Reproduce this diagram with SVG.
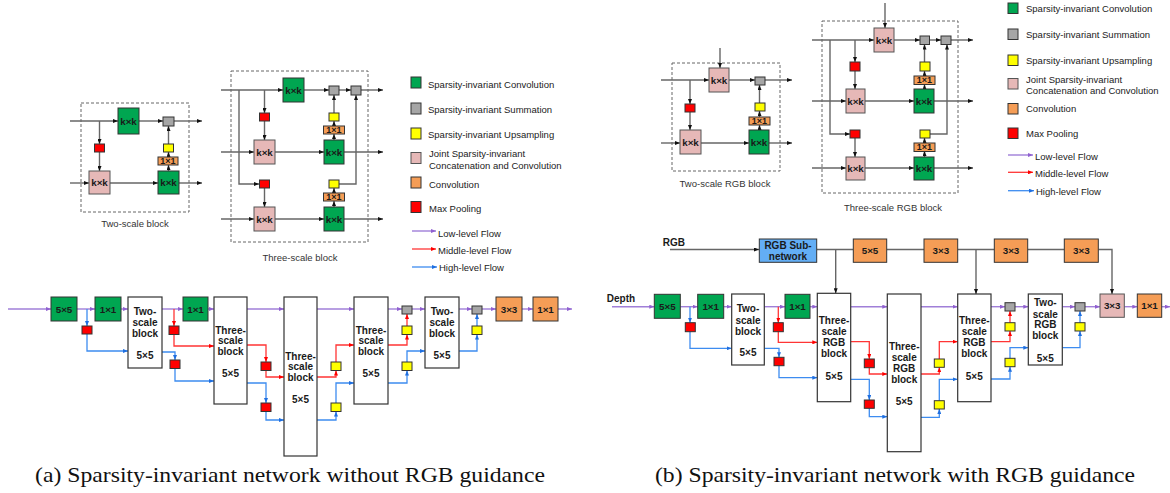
<svg xmlns="http://www.w3.org/2000/svg" width="1170" height="493" viewBox="0 0 1170 493">
<style>
  text { font-family: "Liberation Sans", Arial, sans-serif; fill: #1a1a1a; }
  .b { font-weight: bold; font-size: 10px; text-anchor: middle; dominant-baseline: central; }
  .k { font-weight: bold; font-size: 9.8px; text-anchor: middle; dominant-baseline: central; }
  .s { font-weight: bold; font-size: 9px; text-anchor: middle; dominant-baseline: central; }
  .lg { font-size: 9.5px; dominant-baseline: central; fill: #222; }
  .cap { font-size: 9.5px; text-anchor: middle; dominant-baseline: central; fill: #333; }
  .title { font-family: "Liberation Serif", "Times New Roman", serif; font-size: 21px; fill: #111; }
  .g { fill: #00a651; stroke: #333; stroke-width: 1; }
  .gr { fill: #a6a6a6; stroke: #333; stroke-width: 1; }
  .y { fill: #ffff00; stroke: #333; stroke-width: 1; }
  .p { fill: #e6b8b7; stroke: #555; stroke-width: 1; }
  .o { fill: #f59d56; stroke: #333; stroke-width: 1; }
  .r { fill: #ff0000; stroke: #333; stroke-width: 1; }
  .sub { fill: #63aef5; stroke: #333; stroke-width: 1; }
  .blk { fill: #ffffff; stroke: #333; stroke-width: 1.2; }
  .dash { fill: none; stroke: #666; stroke-width: 1; stroke-dasharray: 3 2; }
  .ln { fill: none; stroke: #666; stroke-width: 1.4; marker-end: url(#ak); }
  .lnp { fill: none; stroke: #666; stroke-width: 1.4; }
  .pu { fill: none; stroke: #a07fd8; stroke-width: 1.4; marker-end: url(#ap); }
  .rd { fill: none; stroke: #ff3535; stroke-width: 1.3; marker-end: url(#ar); }
  .bl { fill: none; stroke: #3d8cf0; stroke-width: 1.3; marker-end: url(#ab); }
</style>
<defs>
  <marker id="ak" markerUnits="userSpaceOnUse" markerWidth="5" markerHeight="4" refX="5" refY="2" orient="auto"><path d="M0,0 L5,2 L0,4 z" fill="#111"/></marker>
  <marker id="ap" markerUnits="userSpaceOnUse" markerWidth="5" markerHeight="4" refX="5" refY="2" orient="auto"><path d="M0,0 L5,2 L0,4 z" fill="#9060d0"/></marker>
  <marker id="ar" markerUnits="userSpaceOnUse" markerWidth="5" markerHeight="4" refX="5" refY="2" orient="auto"><path d="M0,0 L5,2 L0,4 z" fill="#ff0000"/></marker>
  <marker id="ab" markerUnits="userSpaceOnUse" markerWidth="5" markerHeight="4" refX="5" refY="2" orient="auto"><path d="M0,0 L5,2 L0,4 z" fill="#1f6fe0"/></marker>
</defs>

<!-- ===== Two-scale block detail ===== -->
<g id="two-scale-block">
  <rect class="dash" x="81" y="103" width="108" height="109"/>
  <g id="ts-connectors">
    <path class="ln" d="M70,121 H118"/>
    <path class="ln" d="M139,121 H163"/>
    <path class="ln" d="M174,121 H202"/>
    <path class="ln" d="M99.5,121 V144"/>
    <path class="ln" d="M99.5,152 V171"/>
    <path class="ln" d="M70,183 H89"/>
    <path class="ln" d="M110,183 H158"/>
    <path class="ln" d="M179,183 H202"/>
    <path class="ln" d="M168.5,171 V165"/>
    <path class="ln" d="M168.5,157 V152"/>
    <path class="ln" d="M168.5,144 V126"/>
  </g>
  <rect class="g" x="118" y="108" width="21" height="26"/><text class="k" x="128.5" y="121">k×k</text>
  <rect class="gr" x="163" y="117" width="11" height="9"/>
  <rect class="r" x="94.5" y="144" width="10" height="8"/>
  <rect class="p" x="89" y="171" width="21" height="23"/><text class="k" x="99.5" y="182.5">k×k</text>
  <rect class="g" x="158" y="171" width="21" height="23"/><text class="k" x="168.5" y="182.5">k×k</text>
  <rect class="y" x="163.5" y="144" width="10" height="8"/>
  <rect class="o" x="158" y="157" width="20" height="8"/><text class="s" x="168" y="161">1×1</text>
  <text class="cap" x="135" y="223">Two-scale block</text>
</g>

<!-- ===== Three-scale block detail ===== -->
<g id="three-scale-block">
  <rect class="dash" x="231" y="71" width="137" height="171"/>
  <g id="th-connectors">
    <path class="ln" d="M221,90 H283"/>
    <path class="ln" d="M304,90 H329"/>
    <path class="ln" d="M339,90 H351"/>
    <path class="ln" d="M361,90 H383"/>
    <path class="ln" d="M239,90 V184 H259"/>
    <path class="ln" d="M264.5,90 V113"/>
    <path class="ln" d="M264.5,121 V140"/>
    <path class="ln" d="M264.5,188 V207"/>
    <path class="ln" d="M221,152 H254"/>
    <path class="ln" d="M275,152 H324"/>
    <path class="ln" d="M344,152 H383"/>
    <path class="ln" d="M221,219 H254"/>
    <path class="ln" d="M275,219 H324"/>
    <path class="ln" d="M344,219 H383"/>
    <path class="ln" d="M334,140 V134"/>
    <path class="ln" d="M334,126 V121"/>
    <path class="ln" d="M334,113 V95"/>
    <path class="ln" d="M334,207 V201"/>
    <path class="ln" d="M334,193 V188"/>
    <path class="ln" d="M339,184 H356 V95"/>
  </g>
  <rect class="g" x="283" y="78" width="21" height="24"/><text class="k" x="293.5" y="90">k×k</text>
  <rect class="gr" x="329" y="86" width="10" height="9"/>
  <rect class="gr" x="351" y="86" width="10" height="9"/>
  <rect class="r" x="259.5" y="113" width="10" height="8"/>
  <rect class="p" x="254" y="140" width="21" height="24"/><text class="k" x="264.5" y="152">k×k</text>
  <rect class="g" x="324" y="140" width="20" height="24"/><text class="k" x="334" y="152">k×k</text>
  <rect class="y" x="329" y="113" width="10" height="8"/>
  <rect class="o" x="323.5" y="126" width="21" height="8"/><text class="s" x="334" y="130">1×1</text>
  <rect class="r" x="259.5" y="180" width="10" height="8"/>
  <rect class="p" x="254" y="207" width="21" height="24"/><text class="k" x="264.5" y="219">k×k</text>
  <rect class="g" x="324" y="207" width="20" height="24"/><text class="k" x="334" y="219">k×k</text>
  <rect class="y" x="329" y="180" width="10" height="8"/>
  <rect class="o" x="323.5" y="193" width="21" height="8"/><text class="s" x="334" y="197">1×1</text>
  <text class="cap" x="300" y="257">Three-scale block</text>
</g>

<!-- ===== Legend (a) ===== -->
<g id="legend-a">
  <rect class="g" x="411" y="77" width="10" height="11"/><text class="lg" x="428" y="84">Sparsity-invariant Convolution</text>
  <rect class="gr" x="411" y="103" width="10" height="11"/><text class="lg" x="428" y="109">Sparsity-invariant Summation</text>
  <rect class="y" x="411" y="128" width="10" height="11"/><text class="lg" x="428" y="134">Sparsity-invariant Upsampling</text>
  <rect class="p" x="411" y="152.5" width="10" height="11"/><text class="lg" x="429" y="153.5">Joint Sparsity-invariant</text><text class="lg" x="429" y="165">Concatenation and Convolution</text>
  <rect class="o" x="411" y="177" width="10" height="11"/><text class="lg" x="429" y="184">Convolution</text>
  <rect class="r" x="411" y="201.5" width="10" height="11"/><text class="lg" x="429" y="208">Max Pooling</text>
  <path class="pu" d="M412,231 H436"/><text class="lg" x="438" y="233">Low-level Flow</text>
  <path class="rd" d="M412,249 H436"/><text class="lg" x="438" y="250.5">Middle-level Flow</text>
  <path class="bl" d="M412,267 H437"/><text class="lg" x="439" y="267.5">High-level Flow</text>
</g>

<!-- ===== Network (a) connectors ===== -->
<g id="net-a-connectors">
  <path class="pu" d="M8,309 H51"/>
  <path class="pu" d="M77,309 H95"/>
  <path class="pu" d="M121,309 H128"/>
  <path class="pu" d="M162,309 H183"/>
  <path class="pu" d="M208,309 H214"/>
  <path class="pu" d="M247,309 H284"/>
  <path class="pu" d="M317,309 H354"/>
  <path class="pu" d="M388,309 H402"/>
  <path class="pu" d="M412,309 H425"/>
  <path class="pu" d="M459,309 H472"/>
  <path class="pu" d="M482,309 H496"/>
  <path class="pu" d="M522,309 H533"/>
  <path class="pu" d="M558,309 H572"/>
  <path class="bl" d="M87,309 V326"/>
  <path class="bl" d="M87,334 V351 H128"/>
  <path class="rd" d="M174,309 V326"/>
  <path class="rd" d="M174,334 V346 H214"/>
  <path class="bl" d="M162,352 H175 V360"/>
  <path class="bl" d="M175,368 V381 H214"/>
  <path class="rd" d="M247,345 H266 V362"/>
  <path class="rd" d="M266,370.5 V377 H284"/>
  <path class="bl" d="M247,383 H266 V403"/>
  <path class="bl" d="M266,411.5 V420 H284"/>
  <path class="rd" d="M317,377 H336 V370.5"/>
  <path class="rd" d="M336,362 V345 H354"/>
  <path class="bl" d="M317,420 H336 V411.5"/>
  <path class="bl" d="M336,403 V383 H354"/>
  <path class="rd" d="M388,345 H407 V334.5"/>
  <path class="rd" d="M407,326 V314"/>
  <path class="bl" d="M388,383 H407 V370.5"/>
  <path class="bl" d="M407,362 V351 H425"/>
  <path class="bl" d="M459,351 H477 V334.5"/>
  <path class="bl" d="M477,326 V314"/>
</g>

<!-- ===== Network (a) nodes ===== -->
<g id="a-conv5"><rect class="g" x="51" y="297" width="26" height="24"/><text class="k" x="64" y="309">5×5</text></g>
<g id="a-conv1a"><rect class="g" x="95" y="297" width="26" height="24"/><text class="k" x="108" y="309">1×1</text></g>
<g id="a-pool1"><rect class="r" x="82" y="326" width="10" height="8"/></g>
<g id="a-two1"><rect class="blk" x="128" y="297" width="34" height="71"/>
  <text class="b" x="145" y="311">Two-</text><text class="b" x="145" y="322.7">scale</text><text class="b" x="145" y="333.7">block</text><text class="b" x="145" y="355.7">5×5</text></g>
<g id="a-conv1b"><rect class="g" x="183" y="297" width="25" height="24"/><text class="k" x="195.5" y="309">1×1</text></g>
<g id="a-pool2"><rect class="r" x="169" y="326" width="10" height="8.5"/></g>
<g id="a-pool3"><rect class="r" x="170" y="360" width="10" height="8.5"/></g>
<g id="a-three1"><rect class="blk" x="214" y="297" width="33" height="107"/>
  <text class="b" x="230.5" y="330">Three-</text><text class="b" x="230.5" y="340.7">scale</text><text class="b" x="230.5" y="351.7">block</text><text class="b" x="230.5" y="373.3">5×5</text></g>
<g id="a-pool4"><rect class="r" x="261" y="362" width="10" height="8.5"/></g>
<g id="a-pool5"><rect class="r" x="261" y="403" width="10" height="8.5"/></g>
<g id="a-three2"><rect class="blk" x="284" y="297" width="33" height="159"/>
  <text class="b" x="300.5" y="356">Three-</text><text class="b" x="300.5" y="366.7">scale</text><text class="b" x="300.5" y="377.3">block</text><text class="b" x="300.5" y="399.3">5×5</text></g>
<g id="a-up1"><rect class="y" x="331" y="362" width="10" height="8.5"/></g>
<g id="a-up2"><rect class="y" x="331" y="403" width="10" height="8.5"/></g>
<g id="a-three3"><rect class="blk" x="354" y="297" width="34" height="107"/>
  <text class="b" x="371" y="330">Three-</text><text class="b" x="371" y="340.7">scale</text><text class="b" x="371" y="351.7">block</text><text class="b" x="371" y="373.3">5×5</text></g>
<g id="a-sum1"><rect class="gr" x="402" y="306" width="10" height="8"/></g>
<g id="a-up3"><rect class="y" x="402" y="326" width="10" height="8.5"/></g>
<g id="a-up4"><rect class="y" x="402" y="362" width="10" height="8.5"/></g>
<g id="a-two2"><rect class="blk" x="425" y="297" width="34" height="71"/>
  <text class="b" x="442" y="311">Two-</text><text class="b" x="442" y="322.7">scale</text><text class="b" x="442" y="333.7">block</text><text class="b" x="442" y="355.7">5×5</text></g>
<g id="a-sum2"><rect class="gr" x="472" y="306" width="10" height="8"/></g>
<g id="a-up5"><rect class="y" x="472" y="326" width="10" height="8.5"/></g>
<g id="a-conv3"><rect class="o" x="496" y="297" width="26" height="24"/><text class="k" x="509" y="309">3×3</text></g>
<g id="a-conv1c"><rect class="o" x="533" y="297" width="25" height="24"/><text class="k" x="545.5" y="309">1×1</text></g>

<!-- ===== Two-scale RGB block detail ===== -->
<g id="two-scale-rgb-block">
  <rect class="dash" x="672" y="63" width="108" height="108"/>
  <g id="tsr-connectors">
    <path class="ln" d="M720,48 V68"/>
    <path class="ln" d="M661,80 H709"/>
    <path class="ln" d="M729,80 H755"/>
    <path class="ln" d="M765,80 H792"/>
    <path class="ln" d="M690,80 V104"/>
    <path class="ln" d="M690,112 V130"/>
    <path class="ln" d="M661,143 H680"/>
    <path class="ln" d="M701,143 H749"/>
    <path class="ln" d="M769,143 H792"/>
    <path class="ln" d="M759.5,130 V125"/>
    <path class="ln" d="M759.5,117 V111"/>
    <path class="ln" d="M759.5,103 V85"/>
  </g>
  <rect class="p" x="709" y="68" width="20" height="24"/><text class="k" x="719" y="80">k×k</text>
  <rect class="gr" x="755" y="77" width="10" height="8"/>
  <rect class="r" x="685" y="104" width="10" height="8"/>
  <rect class="p" x="680" y="130" width="21" height="24"/><text class="k" x="690.5" y="142.5">k×k</text>
  <rect class="g" x="749" y="130" width="20" height="24"/><text class="k" x="759" y="142.5">k×k</text>
  <rect class="y" x="755" y="103" width="10" height="8"/>
  <rect class="o" x="749" y="117" width="21" height="8"/><text class="s" x="759.5" y="121">1×1</text>
  <text class="cap" x="725" y="183">Two-scale RGB block</text>
</g>

<!-- ===== Three-scale RGB block detail ===== -->
<g id="three-scale-rgb-block">
  <rect class="dash" x="822" y="21" width="136" height="172"/>
  <g id="thr-connectors">
    <path class="ln" d="M885,3 V28"/>
    <path class="ln" d="M812,40 H874"/>
    <path class="ln" d="M894,40 H920"/>
    <path class="ln" d="M929.5,40 H941"/>
    <path class="ln" d="M951,40 H973"/>
    <path class="ln" d="M830,40 V134 H850"/>
    <path class="ln" d="M855,40 V62"/>
    <path class="ln" d="M855,71 V89"/>
    <path class="ln" d="M855,138 V157"/>
    <path class="ln" d="M812,101 H846"/>
    <path class="ln" d="M865,101 H914"/>
    <path class="ln" d="M934,101 H973"/>
    <path class="ln" d="M812,168 H846"/>
    <path class="ln" d="M865,168 H914"/>
    <path class="ln" d="M934,168 H973"/>
    <path class="ln" d="M924.5,89 V84.5"/>
    <path class="ln" d="M924.5,76 V71"/>
    <path class="ln" d="M924.5,62 V44.5"/>
    <path class="ln" d="M924.5,157 V151"/>
    <path class="ln" d="M924.5,143 V138"/>
    <path class="ln" d="M930,134 H947 V44.5"/>
  </g>
  <rect class="p" x="874" y="28" width="20" height="24"/><text class="k" x="884" y="40">k×k</text>
  <rect class="gr" x="920" y="36" width="9.5" height="8.5"/>
  <rect class="gr" x="941" y="36" width="10" height="8.5"/>
  <rect class="r" x="850" y="62" width="10" height="9"/>
  <rect class="p" x="846" y="89" width="19" height="24"/><text class="k" x="855.5" y="101">k×k</text>
  <rect class="g" x="914" y="89" width="20" height="24"/><text class="k" x="924" y="101">k×k</text>
  <rect class="y" x="920" y="62" width="10" height="9"/>
  <rect class="o" x="914" y="76" width="21" height="8.5"/><text class="s" x="924.5" y="80.3">1×1</text>
  <rect class="r" x="850" y="130" width="10" height="8"/>
  <rect class="p" x="846" y="157" width="19" height="23"/><text class="k" x="855.5" y="168.5">k×k</text>
  <rect class="g" x="914" y="157" width="20" height="23"/><text class="k" x="924" y="168.5">k×k</text>
  <rect class="y" x="920" y="130" width="10" height="8"/>
  <rect class="o" x="914" y="143" width="21" height="8.5"/><text class="s" x="924.5" y="147.3">1×1</text>
  <text class="cap" x="893" y="207">Three-scale RGB block</text>
</g>

<!-- ===== Legend (b) ===== -->
<g id="legend-b">
  <rect class="g" x="1008" y="3" width="10" height="10.5"/><text class="lg" x="1026" y="8.5">Sparsity-invariant Convolution</text>
  <rect class="gr" x="1008" y="29" width="10" height="10.5"/><text class="lg" x="1026" y="34.5">Sparsity-invariant Summation</text>
  <rect class="y" x="1008" y="55" width="10" height="10.5"/><text class="lg" x="1026" y="60">Sparsity-invariant Upsampling</text>
  <rect class="p" x="1008" y="78.5" width="10" height="10.5"/><text class="lg" x="1026" y="79.5">Joint Sparsity-invariant</text><text class="lg" x="1026" y="90.5">Concatenation and Convolution</text>
  <rect class="o" x="1008" y="103.5" width="10" height="10.5"/><text class="lg" x="1026" y="108.5">Convolution</text>
  <rect class="r" x="1008" y="128" width="10" height="10.5"/><text class="lg" x="1026" y="133">Max Pooling</text>
  <path class="pu" d="M1008,155 H1033"/><text class="lg" x="1035" y="156">Low-level Flow</text>
  <path class="rd" d="M1008,172.3 H1033"/><text class="lg" x="1035" y="173.5">Middle-level Flow</text>
  <path class="bl" d="M1008,190.7 H1034"/><text class="lg" x="1036" y="191">High-level Flow</text>
</g>

<!-- ===== Network (b) connectors ===== -->
<g id="net-b-connectors">
  <path class="ln" d="M670,249.5 H759"/>
  <path class="lnp" d="M816.7,249.5 H853"/>
  <path class="ln" d="M835.7,249.5 V293.3"/>
  <path class="lnp" d="M886.7,249.5 H924"/>
  <path class="lnp" d="M957.7,249.5 H994.3"/>
  <path class="ln" d="M976,249.5 V294"/>
  <path class="lnp" d="M1027.7,249.5 H1064.3"/>
  <path class="ln" d="M1098.3,249.5 H1112 V294"/>
  <path class="pu" d="M612,306.7 H654.3"/>
  <path class="pu" d="M680.3,306.7 H697.7"/>
  <path class="pu" d="M723.7,306.7 H731.7"/>
  <path class="pu" d="M764.3,306.7 H785"/>
  <path class="pu" d="M810,306.7 H817.3"/>
  <path class="pu" d="M850.7,306.7 H887.3"/>
  <path class="pu" d="M921,306.7 H957.7"/>
  <path class="pu" d="M991,306.7 H1005"/>
  <path class="pu" d="M1015,306.7 H1028.3"/>
  <path class="pu" d="M1062.3,306.7 H1075"/>
  <path class="pu" d="M1085,306.7 H1100"/>
  <path class="pu" d="M1124.3,306.7 H1137.3"/>
  <path class="pu" d="M1161.7,306.7 H1170"/>
  <path class="bl" d="M690,306.7 V322.7"/>
  <path class="bl" d="M690,331.7 V348.3 H731.7"/>
  <path class="rd" d="M778.3,306.7 V322.7"/>
  <path class="rd" d="M778.3,331.7 V342.3 H817.3"/>
  <path class="bl" d="M764.3,348.3 H779 V357.3"/>
  <path class="bl" d="M779,365.7 V377.7 H817.3"/>
  <path class="rd" d="M850.7,341.7 H869.3 V359"/>
  <path class="rd" d="M869.3,367.7 V374 H887.3"/>
  <path class="bl" d="M850.7,379.3 H869.3 V400"/>
  <path class="bl" d="M869.3,408.3 V416.7 H887.3"/>
  <path class="rd" d="M921,374 H939.3 V367.3"/>
  <path class="rd" d="M939.3,359 V341.7 H957.7"/>
  <path class="bl" d="M921,417.3 H939.3 V409"/>
  <path class="bl" d="M939.3,400.7 V379.3 H957.7"/>
  <path class="rd" d="M991,341.7 H1010 V331"/>
  <path class="rd" d="M1010,322.7 V311"/>
  <path class="bl" d="M991,379 H1010 V366.7"/>
  <path class="bl" d="M1010,358.3 V347.7 H1028.3"/>
  <path class="bl" d="M1062.3,347.7 H1080 V331"/>
  <path class="bl" d="M1080,322.7 V311"/>
</g>

<!-- ===== Network (b) nodes ===== -->
<g id="b-rgb-label"><text class="b" x="673.8" y="242.3">RGB</text></g>
<g id="b-depth-label"><text class="b" x="621" y="298.3">Depth</text></g>
<g id="b-rgb-sub"><rect class="sub" x="759.3" y="239" width="57.4" height="23.3"/>
  <text class="b" x="788" y="245.7">RGB Sub-</text><text class="b" x="788" y="256.7">network</text></g>
<g id="b-rgb-conv5"><rect class="o" x="853.3" y="239" width="33.4" height="23.3"/><text class="k" x="870" y="250.7">5×5</text></g>
<g id="b-rgb-conv3a"><rect class="o" x="924" y="239" width="33.7" height="23.3"/><text class="k" x="940.8" y="250.7">3×3</text></g>
<g id="b-rgb-conv3b"><rect class="o" x="994.3" y="239" width="33.4" height="23.3"/><text class="k" x="1011" y="250.7">3×3</text></g>
<g id="b-rgb-conv3c"><rect class="o" x="1064.3" y="239" width="34" height="23.3"/><text class="k" x="1081.3" y="250.7">3×3</text></g>
<g id="b-conv5"><rect class="g" x="654.3" y="294.3" width="26" height="24"/><text class="k" x="667.3" y="306.3">5×5</text></g>
<g id="b-conv1a"><rect class="g" x="697.7" y="294.3" width="26" height="24"/><text class="k" x="710.7" y="306.3">1×1</text></g>
<g id="b-pool1"><rect class="r" x="685.3" y="322.7" width="10" height="9"/></g>
<g id="b-two1"><rect class="blk" x="731.7" y="294" width="32.6" height="71"/>
  <text class="b" x="748" y="308.3">Two-</text><text class="b" x="748" y="320">scale</text><text class="b" x="748" y="331">block</text><text class="b" x="748" y="352.7">5×5</text></g>
<g id="b-conv1b"><rect class="g" x="785" y="294.3" width="25" height="24"/><text class="k" x="797.5" y="306.3">1×1</text></g>
<g id="b-pool2"><rect class="r" x="773.3" y="322.7" width="10" height="9"/></g>
<g id="b-pool3"><rect class="r" x="774" y="357.3" width="10" height="8.4"/></g>
<g id="b-three1"><rect class="blk" x="817.3" y="293.3" width="33.4" height="108.4"/>
  <text class="b" x="834" y="320">Three-</text><text class="b" x="834" y="331.7">scale</text><text class="b" x="834" y="342.7">RGB</text><text class="b" x="834" y="353.3">block</text><text class="b" x="834" y="376.7">5×5</text></g>
<g id="b-pool4"><rect class="r" x="864.3" y="359" width="10" height="8.7"/></g>
<g id="b-pool5"><rect class="r" x="864.3" y="400" width="10" height="8.3"/></g>
<g id="b-three2"><rect class="blk" x="887.3" y="294" width="33.7" height="157.7"/>
  <text class="b" x="904.2" y="346.7">Three-</text><text class="b" x="904.2" y="357.7">scale</text><text class="b" x="904.2" y="368.3">RGB</text><text class="b" x="904.2" y="379.3">block</text><text class="b" x="904.2" y="401.7">5×5</text></g>
<g id="b-up1"><rect class="y" x="934.3" y="359" width="10" height="8.3"/></g>
<g id="b-up2"><rect class="y" x="934.3" y="400.7" width="10" height="8.3"/></g>
<g id="b-three3"><rect class="blk" x="957.7" y="294" width="33.3" height="107.7"/>
  <text class="b" x="974.3" y="320.7">Three-</text><text class="b" x="974.3" y="331.7">scale</text><text class="b" x="974.3" y="342.7">RGB</text><text class="b" x="974.3" y="353.3">block</text><text class="b" x="974.3" y="376.7">5×5</text></g>
<g id="b-sum1"><rect class="gr" x="1005" y="302.7" width="10" height="8.3"/></g>
<g id="b-up3"><rect class="y" x="1005" y="322.7" width="10" height="8.3"/></g>
<g id="b-up4"><rect class="y" x="1005" y="358.3" width="10" height="8.4"/></g>
<g id="b-two2"><rect class="blk" x="1028.3" y="294" width="34" height="71"/>
  <text class="b" x="1045.3" y="302.7">Two-</text><text class="b" x="1045.3" y="314">scale</text><text class="b" x="1045.3" y="324.3">RGB</text><text class="b" x="1045.3" y="335.7">block</text><text class="b" x="1045.3" y="358.3">5×5</text></g>
<g id="b-sum2"><rect class="gr" x="1075" y="302.7" width="10" height="8.3"/></g>
<g id="b-up5"><rect class="y" x="1075" y="322.7" width="10" height="8.3"/></g>
<g id="b-joint3"><rect class="p" x="1100" y="294" width="24.3" height="23.3"/><text class="k" x="1112.2" y="305.7">3×3</text></g>
<g id="b-conv1c"><rect class="o" x="1137.3" y="294" width="24.4" height="23.3"/><text class="k" x="1149.5" y="305.7">1×1</text></g>

<!-- ===== Sub-figure captions ===== -->
<g id="captions">
  <text class="title" x="35" y="482" textLength="510" lengthAdjust="spacingAndGlyphs">(a) Sparsity-invariant network without RGB guidance</text>
  <text class="title" x="655" y="482" textLength="480" lengthAdjust="spacingAndGlyphs">(b) Sparsity-invariant network with RGB guidance</text>
</g>
</svg>
